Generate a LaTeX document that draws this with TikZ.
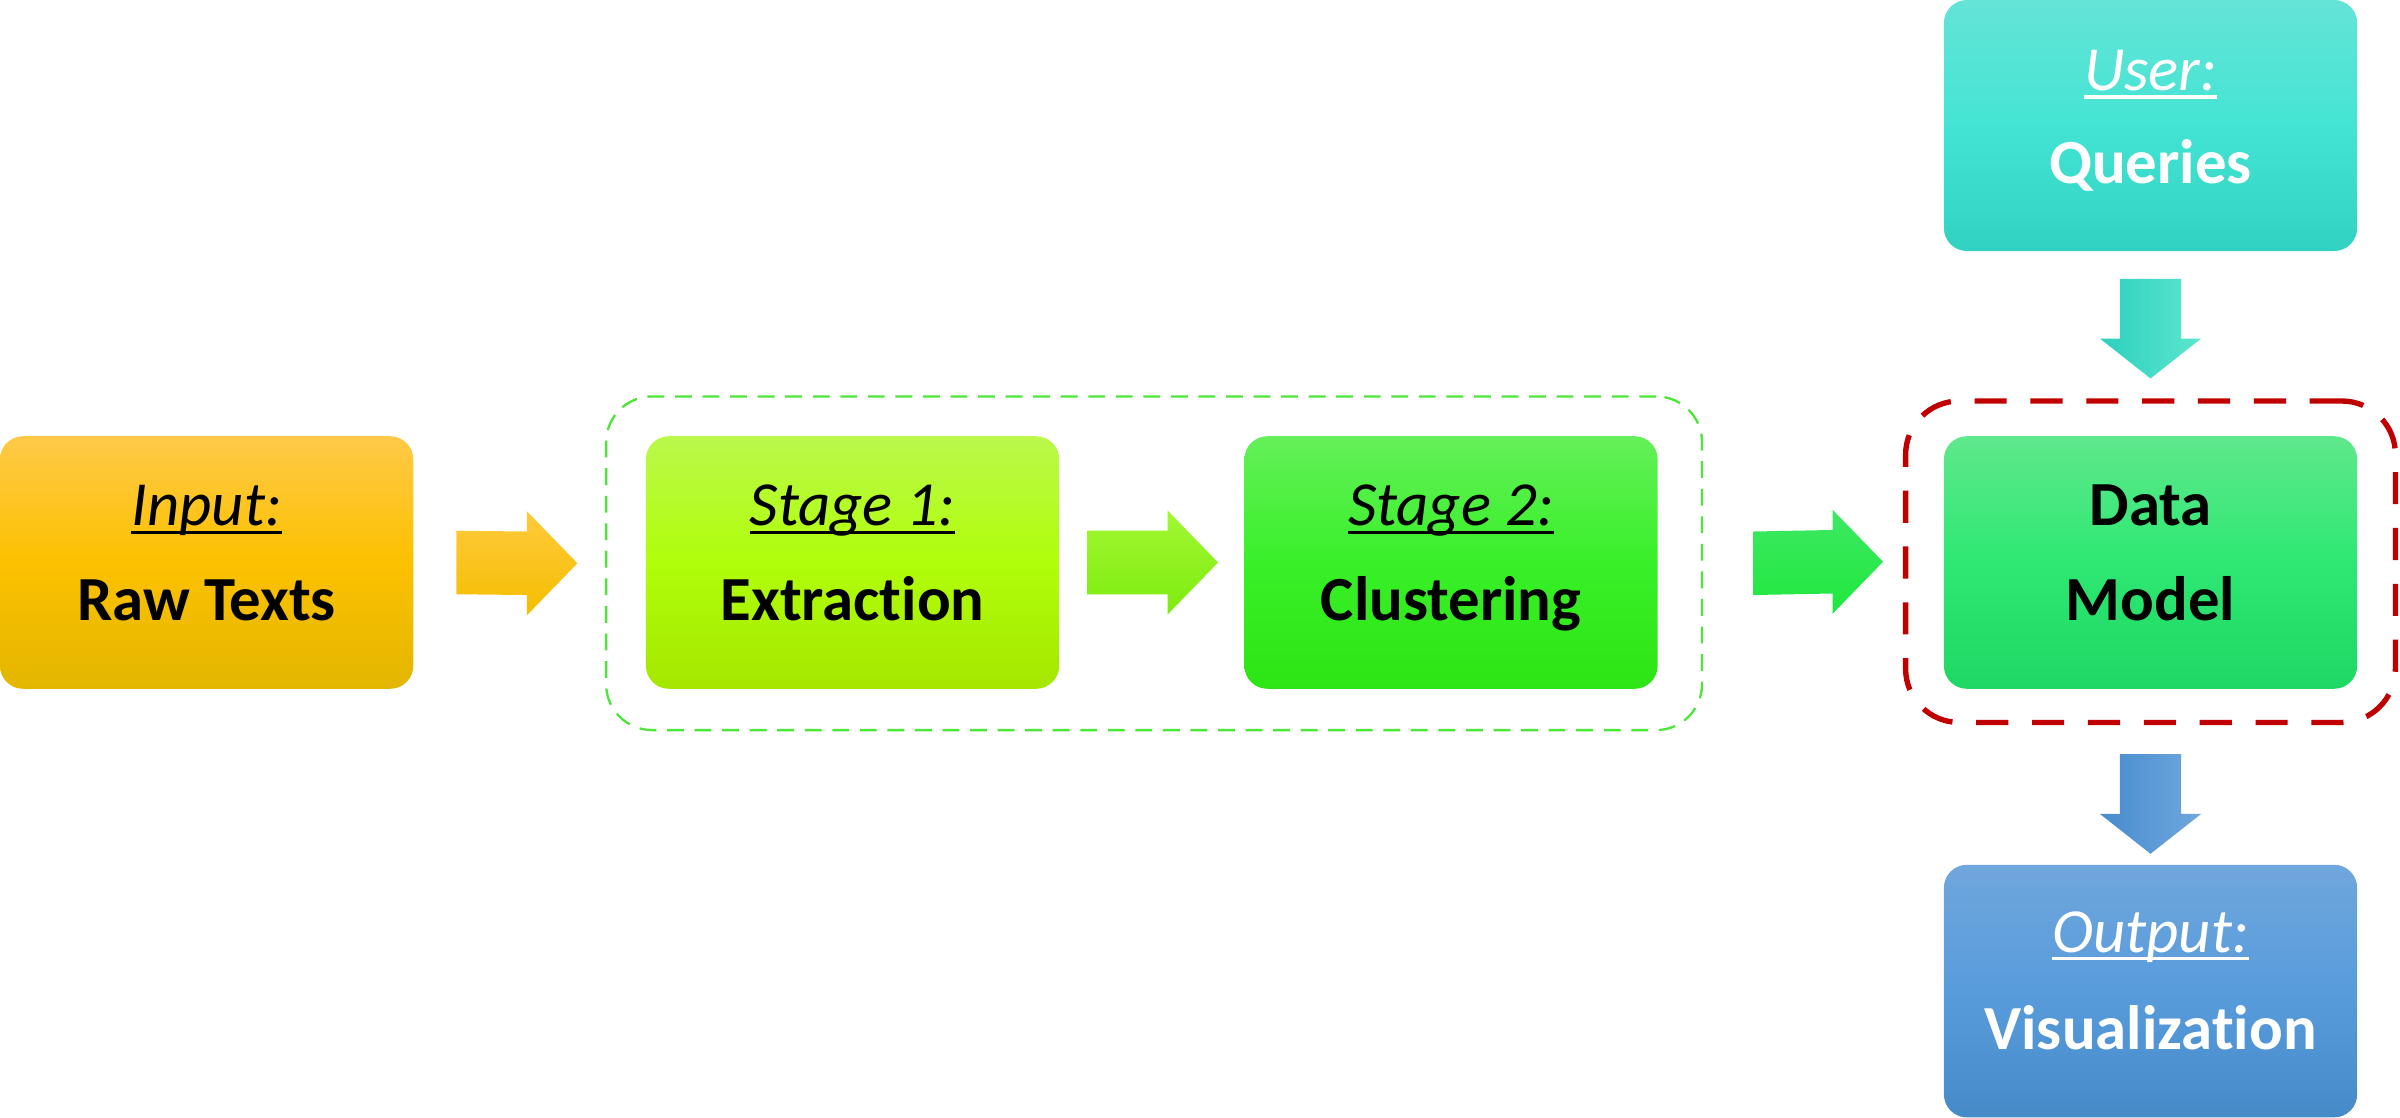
\documentclass[tikz,border=0pt]{standalone}
\usepackage{fontspec}
\setmainfont{Carlito}[Ligatures={NoCommon,NoContextual}]
\usetikzlibrary{calc}
\newcommand\ulx[1]{\setbox0\hbox{#1}\rlap{\rule[-5.5pt]{\wd0}{2.2pt}}\box0}
\newcommand\harrowpath[3]{\path[#3] ($(#1)+(0,-20.75)$) -- ($(#2)+(-33,-20.75)$) -- ($(#2)+(-33,-34)$) -- (#2) -- ($(#2)+(-33,34)$) -- ($(#2)+(-33,20.75)$) -- ($(#1)+(0,20.75)$) -- cycle;}
\newcommand\varrowpath[3]{\path[#3] ($(#1)+(-20,0)$) -- ($(#2)+(-20,-26)$) -- ($(#2)+(-33,-26)$) -- (#2) -- ($(#2)+(33,-26)$) -- ($(#2)+(20,-26)$) -- ($(#1)+(20,0)$) -- cycle;}
\definecolor{inT}{RGB}{255,201,72}
\definecolor{inM}{RGB}{252,193,0}
\definecolor{inB}{RGB}{227,182,0}
\definecolor{aoT}{RGB}{255,202,60}
\definecolor{aoB}{RGB}{244,190,0}
\definecolor{s1T}{RGB}{187,248,75}
\definecolor{s1M}{RGB}{176,254,10}
\definecolor{s1B}{RGB}{165,230,0}
\definecolor{agT}{RGB}{162,248,50}
\definecolor{agB}{RGB}{125,235,15}
\definecolor{s2T}{RGB}{100,240,90}
\definecolor{s2M}{RGB}{56,240,40}
\definecolor{s2B}{RGB}{45,228,20}
\definecolor{a3T}{RGB}{62,232,100}
\definecolor{a3B}{RGB}{30,232,60}
\definecolor{dmT}{RGB}{95,232,140}
\definecolor{dmM}{RGB}{46,232,115}
\definecolor{dmB}{RGB}{30,215,100}
\definecolor{usT}{RGB}{100,228,215}
\definecolor{usM}{RGB}{68,228,212}
\definecolor{usB}{RGB}{50,210,195}
\definecolor{taL}{RGB}{45,208,190}
\definecolor{taR}{RGB}{92,230,205}
\definecolor{baL}{RGB}{70,140,205}
\definecolor{baR}{RGB}{112,167,222}
\definecolor{ouT}{RGB}{112,166,220}
\definecolor{ouM}{RGB}{88,156,220}
\definecolor{ouB}{RGB}{70,138,200}
\definecolor{redd}{RGB}{192,0,0}
\definecolor{grpg}{RGB}{75,230,55}
\begin{document}
\begin{tikzpicture}[x=1pt,y=-1pt,
  box/.style={rounded corners=15pt, minimum width=270pt, minimum height=165pt, inner sep=0pt, shading=axis},
  headtxt/.style={anchor=base, inner sep=0pt, font=\fontsize{41}{49}\selectfont\itshape},
  maintxt/.style={anchor=base, inner sep=0pt, font=\fontsize{41}{49}\selectfont\bfseries},
  grpbox/.style={draw=grpg, line width=1.5pt, dash pattern=on 11pt off 7pt, rounded corners=30pt, inner sep=0pt},
  redbox/.style={draw=redd, line width=3.5pt, dash pattern=on 21pt off 15.5pt, rounded corners=35pt, inner sep=0pt}
]
\useasboundingbox (0,0) rectangle (1568,730);

\node[grpbox, minimum width=716pt, minimum height=218pt] (grp) at (754,368) {};
\node[redbox, minimum width=320pt, minimum height=210pt] (red) at (1405,367) {};

\node[box, top color=inT, bottom color=inB, middle color=inM] (in) at (135,367.5) {};
\node[box, top color=s1T, bottom color=s1B, middle color=s1M] (s1) at (557,367.5) {};
\node[box, top color=s2T, bottom color=s2B, middle color=s2M] (s2) at (948,367.5) {};
\node[box, top color=dmT, bottom color=dmB, middle color=dmM] (dm) at (1405,367.5) {};
\node[box, minimum height=164pt, top color=usT, bottom color=usB, middle color=usM] (usr) at (1405,82) {};
\node[box, top color=ouT, bottom color=ouB, middle color=ouM] (out) at (1405,647.5) {};

\node[headtxt] (inh) at ($(in.center)+(0,-24)$) {\ulx{Input:}};
\node[maintxt] (inm) at ($(in.center)+(0,38)$) {Raw Texts};
\node[headtxt] (s1h) at ($(s1.center)+(0,-24)$) {\ulx{Stage 1:}};
\node[maintxt] (s1m) at ($(s1.center)+(0,38)$) {Extraction};
\node[headtxt] (s2h) at ($(s2.center)+(0,-24)$) {\ulx{Stage 2:}};
\node[maintxt] (s2m) at ($(s2.center)+(0,38)$) {Clustering};
\node[maintxt] (dmh) at ($(dm.center)+(0,-24)$) {Data};
\node[maintxt] (dmm) at ($(dm.center)+(0,38)$) {Model};
\node[headtxt, text=white] (ush) at ($(usr.center)+(0,-23)$) {\ulx{User:}};
\node[maintxt, text=white] (usm) at ($(usr.center)+(0,38)$) {Queries};
\node[headtxt, text=white] (ouh) at ($(out.center)+(0,-25.5)$) {\ulx{Output:}};
\node[maintxt, text=white] (oum) at ($(out.center)+(0,38)$) {Visualization};

\coordinate (a1s) at ($(in.east)+(28,0)$);
\coordinate (a1e) at ($(grp.west)+(-18,0)$);
\coordinate (a2s) at ($(s1.east)+(18,0)$);
\coordinate (a2e) at ($(s2.west)+(-17,0)$);
\coordinate (a3s) at ($(grp.east)+(33,0)$);
\coordinate (a3e) at ($(red.west)+(-13,0)$);
\coordinate (tas) at ($(usr.south)+(0,18)$);
\coordinate (tae) at ($(red.north)+(0,-13)$);
\coordinate (bas) at ($(red.south)+(0,19)$);
\coordinate (bae) at ($(out.north)+(0,-7)$);

\harrowpath{a1s}{a1e}{top color=aoT, bottom color=aoB}
\harrowpath{a2s}{a2e}{top color=agT, bottom color=agB}
\harrowpath{a3s}{a3e}{top color=a3T, bottom color=a3B}
\varrowpath{tas}{tae}{left color=taL, right color=taR}
\varrowpath{bas}{bae}{left color=baL, right color=baR}
\end{tikzpicture}
\end{document}
